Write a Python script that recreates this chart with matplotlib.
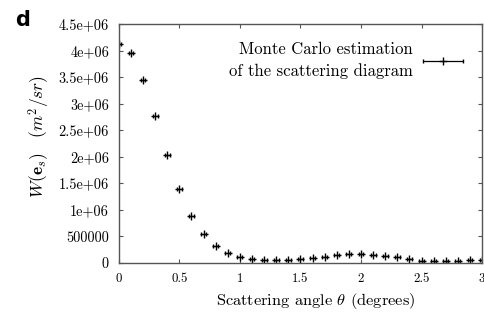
import numpy as np
import matplotlib
matplotlib.use("Agg")
import matplotlib.pyplot as plt
from matplotlib.legend_handler import HandlerErrorbar

plt.rcParams['font.family'] = 'serif'
plt.rcParams['font.serif'] = ['cmr10', 'DejaVu Serif']
plt.rcParams['mathtext.fontset'] = 'cm'
plt.rcParams['axes.unicode_minus'] = False

# scattering angle (degrees) and estimated W(e_s)
angle = [0.0, 0.1, 0.2, 0.3, 0.4, 0.5, 0.6, 0.7, 0.8, 0.9,
         1.0, 1.1, 1.2, 1.3, 1.4, 1.5, 1.6, 1.7, 1.8, 1.9,
         2.0, 2.1, 2.2, 2.3, 2.4, 2.5, 2.6, 2.7, 2.8, 2.9, 3.0]
w = [4.13e6, 3.95e6, 3.45e6, 2.77e6, 2.03e6, 1.39e6, 0.885e6, 0.54e6, 0.32e6, 0.19e6,
     0.107e6, 0.07e6, 0.056e6, 0.056e6, 0.056e6, 0.07e6, 0.088e6, 0.119e6, 0.145e6, 0.163e6,
     0.17e6, 0.157e6, 0.138e6, 0.107e6, 0.075e6, 0.045e6, 0.038e6, 0.038e6, 0.043e6, 0.056e6, 0.056e6]
xerr = [0.02] * len(angle)

yticks = [0, 5e5, 1e6, 1.5e6, 2e6, 2.5e6, 3e6, 3.5e6, 4e6, 4.5e6]
ylabels = ['0', '500000', '1e+06', '1.5e+06', '2e+06', '2.5e+06', '3e+06', '3.5e+06', '4e+06', '4.5e+06']
xticks = [0, 0.5, 1, 1.5, 2, 2.5, 3]
xlabels = ['0', '0.5', '1', '1.5', '2', '2.5', '3']

fig = plt.figure(figsize=(4.85, 3.16), dpi=100)
ax = fig.add_axes([0.245, 0.168, 0.749, 0.756])

eb = ax.errorbar(angle, w, xerr=xerr, fmt='+', color='black', ms=6, mew=1.0,
                 elinewidth=0.9, capsize=1.5, capthick=0.9,
                 label='Monte Carlo estimation\nof the scattering diagram')

ax.set_xlim(0, 3)
ax.set_ylim(0, 4.5e6)
ax.set_xticks(xticks)
ax.set_xticklabels(xlabels)
ax.set_yticks(yticks)
ax.set_yticklabels(ylabels)
ax.tick_params(direction='in', top=True, right=True, length=3,
               color='#555555', width=0.8)
ax.tick_params(axis='y', pad=7, labelsize=10.3)
ax.tick_params(axis='x', pad=7, labelsize=9.3)
for s in ax.spines.values():
    s.set_color('#555555')
    s.set_linewidth(1.0)

ax.set_xlabel(r'Scattering angle $\theta$ (degrees)', fontsize=11.8)
ax.xaxis.set_label_coords(0.541, -0.118)
ax.set_ylabel(r'$W(\mathbf{e}_s)\quad(m^2/sr)$', fontsize=12.5)
ax.yaxis.set_label_coords(-0.183, 0.53)

leg = ax.legend(loc='upper right', bbox_to_anchor=(0.947, 0.925), frameon=False,
                markerfirst=False, fontsize=12, handlelength=2.4, borderpad=0,
                borderaxespad=0, handletextpad=0.6,
                handler_map={type(eb): HandlerErrorbar(xerr_size=1.2)})
for t in leg.get_texts():
    t.set_multialignment('right')
    t.set_linespacing(1.45)

fig.text(0.031, 0.918, 'd', fontsize=15, fontweight='bold', family='DejaVu Sans')

fig.savefig('out.png', dpi=100)
